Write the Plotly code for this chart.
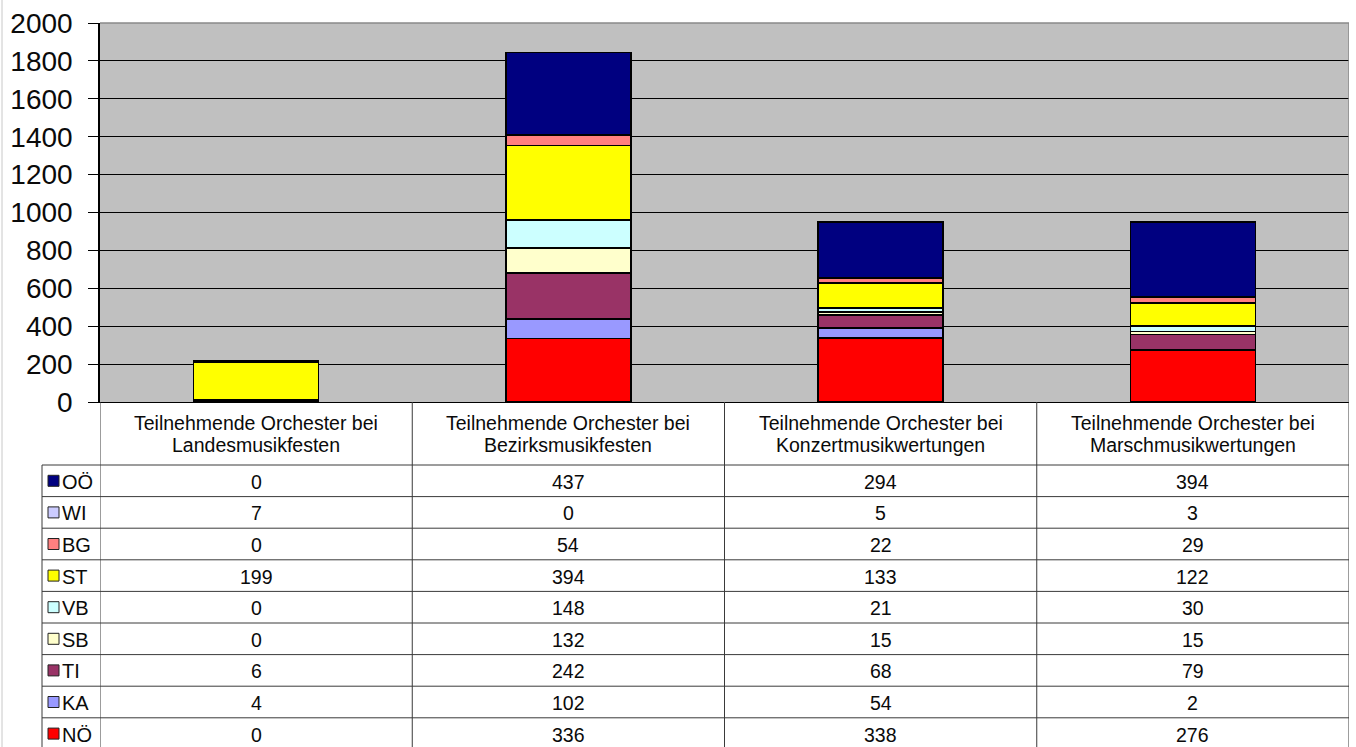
import plotly.graph_objects as go

categories = [
    "Teilnehmende Orchester bei<br>Landesmusikfesten",
    "Teilnehmende Orchester bei<br>Bezirksmusikfesten",
    "Teilnehmende Orchester bei<br>Konzertmusikwertungen",
    "Teilnehmende Orchester bei<br>Marschmusikwertungen",
]
# series listed bottom of stack first
NOE = [0, 336, 338, 276]
KA = [4, 102, 54, 2]
TI = [6, 242, 68, 79]
SB = [0, 132, 15, 15]
VB = [0, 148, 21, 30]
ST = [199, 394, 133, 122]
BG = [0, 54, 22, 29]
WI = [7, 0, 5, 3]
OOE = [0, 437, 294, 394]

series_names = ["NÖ", "KA", "TI", "SB", "VB", "ST", "BG", "WI", "OÖ"]
series_values = [NOE, KA, TI, SB, VB, ST, BG, WI, OOE]
series_colors = ["#FF0000", "#9999FF", "#993366", "#FFFFCC", "#CCFFFF",
                 "#FFFF00", "#FF8080", "#CCCCFF", "#000080"]
y_ticks = [0, 200, 400, 600, 800, 1000, 1200, 1400, 1600, 1800, 2000]

W, H = 1356, 747
def px(x):
    return x / W
def py(y):
    return 1 - y / H

PLOT_L, PLOT_R, PLOT_T, PLOT_B = 100, 1349, 23, 402
HEADER_B = 465
ROW_H = 31.6
LEG_L = 42
FONT = "Liberation Sans, Arial"
TXT = "#0a0a0a"

cat_idx = list(range(len(categories)))

fig = go.Figure()
for name, vals, col in zip(series_names, series_values, series_colors):
    fig.add_trace(go.Bar(
        x=cat_idx, y=vals, name=name,
        marker=dict(color=col, line=dict(color="black", width=1.6)),
        width=0.4,
    ))

shapes = []
annotations = []
line_col = "#3a3a3a"

# vertical column lines of the table (category boundaries)
for b in [-0.5, 0.5, 1.5, 2.5, 3.5]:
    shapes.append(dict(type="line", xref="x", yref="paper", x0=b, x1=b,
                       y0=py(PLOT_B), y1=py(H + 5), line=dict(color=line_col, width=1)))
# right border of plot area
shapes.append(dict(type="line", xref="x", yref="paper", x0=3.5, x1=3.5,
                   y0=py(PLOT_B), y1=py(PLOT_T), line=dict(color="#8a8a8a", width=1.5)))
# top border of plot area
shapes.append(dict(type="line", xref="paper", yref="paper", x0=px(PLOT_L), x1=px(PLOT_R),
                   y0=py(PLOT_T), y1=py(PLOT_T), line=dict(color="#8a8a8a", width=1.5)))
# legend column left line
shapes.append(dict(type="line", xref="paper", yref="paper", x0=px(LEG_L), x1=px(LEG_L),
                   y0=py(HEADER_B), y1=py(H + 5), line=dict(color=line_col, width=1)))
# horizontal row lines
n_rows = len(series_names)
for k in range(n_rows + 1):
    yy = HEADER_B + ROW_H * k
    shapes.append(dict(type="line", xref="paper", yref="paper", x0=px(LEG_L), x1=px(PLOT_R),
                       y0=py(yy), y1=py(yy), line=dict(color=line_col, width=1)))
# outer chart border (left)
shapes.append(dict(type="line", xref="paper", yref="paper", x0=px(2), x1=px(2),
                   y0=0, y1=1, line=dict(color="#c8c8c8", width=1)))

# header texts (two lines each)
for i, c in enumerate(categories):
    parts = c.split("<br>")
    for j, part in enumerate(parts):
        annotations.append(dict(x=i, xref="x", y=py(423 + 22 * j), yref="paper",
                                text=part, showarrow=False, xanchor="center", yanchor="middle",
                                font=dict(family=FONT, size=19.5, color=TXT)))

# table rows: top row is last series
table_order = list(range(n_rows))[::-1]
for r, si in enumerate(table_order):
    yc = HEADER_B + ROW_H * (r + 0.5)
    # legend key square
    shapes.append(dict(type="rect", xref="paper", yref="paper",
                       x0=px(48), x1=px(59), y0=py(yc + 5.5), y1=py(yc - 5.5),
                       fillcolor=series_colors[si], line=dict(color="#222", width=1)))
    annotations.append(dict(x=px(60), xref="paper", y=py(yc + 1), yref="paper",
                            text=series_names[si], showarrow=False, xanchor="left", yanchor="middle",
                            font=dict(family=FONT, size=20, color=TXT)))
    for i, v in enumerate(series_values[si]):
        annotations.append(dict(x=i, xref="x", y=py(yc + 1), yref="paper",
                                text=str(v), showarrow=False, xanchor="center", yanchor="middle",
                                font=dict(family=FONT, size=19.5, color=TXT)))

fig.update_layout(
    width=W, height=H,
    margin=dict(l=0, r=0, t=0, b=0),
    barmode="stack",
    paper_bgcolor="white",
    plot_bgcolor="#C0C0C0",
    showlegend=False,
    shapes=shapes,
    annotations=annotations,
    xaxis=dict(domain=[px(PLOT_L), px(PLOT_R)], range=[-0.5, 3.5], showticklabels=False,
               showgrid=False, zeroline=False, showline=True, linecolor="black", linewidth=1,
               ticks="", fixedrange=True, automargin=False),
    yaxis=dict(domain=[py(PLOT_B), py(PLOT_T)], range=[0, 2000], tickvals=y_ticks,
               showgrid=True, gridcolor="black", gridwidth=1, zeroline=False,
               showline=True, linecolor="black", linewidth=1.5,
               ticks="outside", ticklen=10, tickcolor="black", ticklabelstandoff=10,
               tickfont=dict(family=FONT, size=28, color=TXT),
               fixedrange=True, automargin=False),
)

fig.write_html("out.html", config={"displayModeBar": False},
               post_script="document.body.style.margin='0';document.body.style.overflow='hidden';")
